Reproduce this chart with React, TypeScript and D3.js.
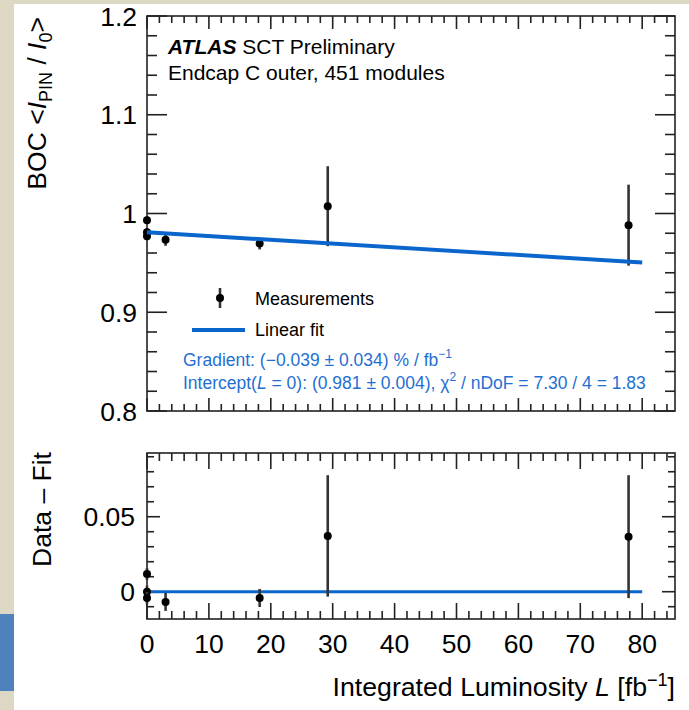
import React from 'react';
import * as d3 from 'd3';

const lumi = [0, 0, 0, 3.0, 18.2, 29.2, 77.8];
const bocRatio = [0.9932, 0.981, 0.977, 0.9733, 0.9696, 1.0074, 0.9882];
const bocErr = [0.004, 0.004, 0.004, 0.006, 0.006, 0.0405, 0.041];
const residual = [0.0118, 0.0, -0.0042, -0.0068, -0.0042, 0.0372, 0.0367];

// linear fit result
const fitIntercept = 0.981;
const fitGradient = -0.039; // % per fb^-1
const fitRange = [0, 80];

const xMajor = [0, 10, 20, 30, 40, 50, 60, 70, 80];
const topMajor = [0.8, 0.9, 1.0, 1.1, 1.2];
const botMajor = [0, 0.05];

const W = 689, H = 710;
const FONT = 'Liberation Sans, Arial, Helvetica, sans-serif';
const INK = '#222';
const BLUE = '#0a66cc';
const TEXTBLUE = '#1f6fd2';

const x = d3.scaleLinear().domain([0, 85.3]).range([147, 675]);
const yTop = d3.scaleLinear().domain([0.8, 1.2]).range([411, 16]);
const yBot = d3.scaleLinear().domain([-0.0182, 0.0925]).range([619, 453]);

const fitAt = (l: number) => fitIntercept * (1 + fitGradient / 100 * l);

function minors(lo: number, hi: number, step: number, majors: number[]) {
  return d3.range(Math.ceil(lo / step - 1e-6), Math.floor(hi / step + 1e-6) + 1)
    .map(i => +(i * step).toFixed(4))
    .filter(v => !majors.some(m => Math.abs(m - v) < 1e-6));
}

function Frame({ y, xMaj, xMin, yMaj, yMin, yMajLen, yMinLen, xMajLen, xMinLen }: any) {
  const [x0, x1] = x.range();
  const [yb, yt] = y.range();
  const lines: any[] = [];
  xMaj.forEach((v: number) => {
    lines.push([x(v), yb, x(v), yb - xMajLen], [x(v), yt, x(v), yt + xMajLen]);
  });
  xMin.forEach((v: number) => {
    lines.push([x(v), yb, x(v), yb - xMinLen], [x(v), yt, x(v), yt + xMinLen]);
  });
  yMaj.forEach((v: number) => {
    lines.push([x0, y(v), x0 + yMajLen, y(v)], [x1, y(v), x1 - yMajLen, y(v)]);
  });
  yMin.forEach((v: number) => {
    lines.push([x0, y(v), x0 + yMinLen, y(v)], [x1, y(v), x1 - yMinLen, y(v)]);
  });
  return (
    <g stroke={INK} strokeWidth={1.6}>
      {lines.map((l, i) => <line key={i} x1={l[0]} y1={l[1]} x2={l[2]} y2={l[3]} />)}
      <rect x={x0} y={yt} width={x1 - x0} height={yb - yt} fill="none" />
    </g>
  );
}

function Points({ y, vals }: any) {
  return (
    <g>
      {lumi.map((l, i) => (
        <g key={i}>
          <line x1={x(l)} x2={x(l)} y1={y(vals[i] - bocErr[i])} y2={y(vals[i] + bocErr[i])}
            stroke="#333" strokeWidth={2.6} />
          <circle cx={x(l)} cy={y(vals[i])} r={4} fill="#000" />
        </g>
      ))}
    </g>
  );
}

export default function App() {
  const xMin = minors(0, 85.3, 2, xMajor);
  const fitLine = d3.line<number>().x(d => x(d)).y(d => yTop(fitAt(d)));
  const zeroLine = d3.line<number>().x(d => x(d)).y(() => yBot(0));

  return (
    <div style={{ position: 'absolute', left: 0, top: 0 }}>
      <svg width={W} height={H} style={{ display: 'block', fontFamily: FONT }}>
        <rect x={0} y={0} width={W} height={H} fill="#fff" />
        <rect x={0} y={0} width={W} height={4} fill="#ddd8c4" />
        <rect x={0} y={0} width={14} height={H} fill="#ddd8c4" />
        <rect x={0} y={614} width={14} height={77} fill="#4f81bd" />

        {/* upper panel */}
        <Frame y={yTop} xMaj={xMajor} xMin={xMin} yMaj={topMajor}
          yMin={minors(0.8, 1.2, 0.02, topMajor)}
          yMajLen={20} yMinLen={10} xMajLen={13} xMinLen={7} />
        <Points y={yTop} vals={bocRatio} />
        <path d={fitLine(fitRange) || ''} stroke={BLUE} strokeWidth={4} fill="none" />
        <g fontSize={26.5} fill="#000" textAnchor="end">
          {topMajor.map(v => (
            <text key={v} x={137} y={yTop(v)} dy="0.36em">{String(+v.toFixed(2))}</text>
          ))}
        </g>
        <text transform={`translate(46,17) rotate(-90)`} textAnchor="end" fontSize={26.5}>
          BOC &lt;<tspan fontStyle="italic">I</tspan>
          <tspan fontSize={18} dy={6}>PIN</tspan>
          <tspan dy={-6}> / </tspan><tspan fontStyle="italic">I</tspan>
          <tspan fontSize={18} dy={6}>0</tspan><tspan dy={-6}>&gt;</tspan>
        </text>

        <text x={168} y={54} fontSize={21}>
          <tspan fontWeight="bold" fontStyle="italic">ATLAS</tspan> SCT Preliminary
        </text>
        <text x={168} y={80} fontSize={21}>Endcap C outer, 451 modules</text>

        {/* legend */}
        <line x1={220} x2={220} y1={288} y2={308} stroke="#333" strokeWidth={2.6} />
        <circle cx={220} cy={298} r={4} fill="#000" />
        <text x={255} y={305} fontSize={18}>Measurements</text>
        <line x1={192} x2={245} y1={330} y2={330} stroke={BLUE} strokeWidth={4} />
        <text x={255} y={336} fontSize={18}>Linear fit</text>

        <g fill={TEXTBLUE} fontSize={17.5}>
          <text x={183} y={366}>
            Gradient: (−0.039 ± 0.034) % / fb<tspan fontSize={12} dy={-8}>−1</tspan>
          </text>
          <text x={183} y={389}>
            Intercept(<tspan fontStyle="italic">L</tspan> = 0): (0.981 ± 0.004), χ
            <tspan fontSize={12} dy={-8}>2</tspan>
            <tspan dy={8}> / nDoF = 7.30 / 4 = 1.83</tspan>
          </text>
        </g>

        {/* lower panel */}
        <Frame y={yBot} xMaj={xMajor} xMin={xMin} yMaj={botMajor}
          yMin={minors(-0.018, 0.092, 0.01, botMajor)}
          yMajLen={13} yMinLen={7} xMajLen={16} xMinLen={8} />
        <path d={zeroLine(fitRange) || ''} stroke={BLUE} strokeWidth={3} fill="none" />
        <Points y={yBot} vals={residual} />
        <g fontSize={26.5} fill="#000" textAnchor="end">
          {botMajor.map(v => (
            <text key={v} x={135} y={yBot(v)} dy="0.36em">{String(v)}</text>
          ))}
        </g>
        <text transform={`translate(51,452) rotate(-90)`} textAnchor="end" fontSize={26.5}>
          Data – Fit
        </text>

        <g fontSize={26.5} fill="#000" textAnchor="middle">
          {xMajor.map(v => (
            <text key={v} x={x(v)} y={653}>{v}</text>
          ))}
        </g>
        <text x={675} y={696} fontSize={26.7} textAnchor="end">
          Integrated Luminosity <tspan fontStyle="italic">L</tspan> [fb
          <tspan fontSize={18} dy={-10}>−1</tspan><tspan dy={10}>]</tspan>
        </text>
      </svg>
    </div>
  );
}
